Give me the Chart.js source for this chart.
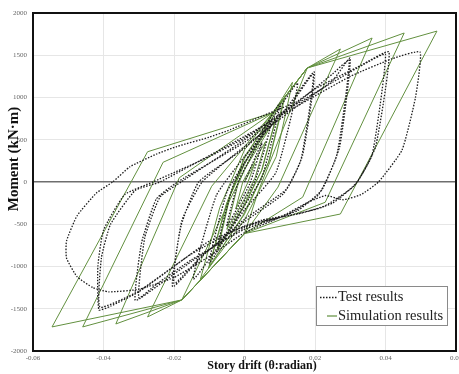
<!DOCTYPE html>
<html>
<head>
<meta charset="utf-8">
<script src="https://cdn.jsdelivr.net/npm/chart.js@4.4.0/dist/chart.umd.min.js"></script>
<style>
html, body { margin: 0; padding: 0; background: #fff; }
#wrap { width: 459px; height: 374px; }
</style>
</head>
<body>
<div id="wrap"><canvas id="chart" width="459" height="374"></canvas></div>
<script>
// axis ticks
const xTickValues = [-0.06, -0.04, -0.02, 0, 0.02, 0.04, 0.06];
const xTickLabels = ["-0.06", "-0.04", "-0.02", "0", "0.02", "0.04", "0.06"];
const yTickValues = [-2000, -1500, -1000, -500, 0, 500, 1000, 1500, 2000];
const yTickLabels = ["-2000", "-1500", "-1000", "-500", "0", "500", "1000", "1500", "2000"];

const seriesNames = ["Test results", "Simulation results"];

// test results: story drift (rad) and moment (kN.m)
const testDrift = [
	0, 0.0050, 0.0015, -0.0050, -0.0015, 0.0075, 0.0030, -0.0075, -0.0030,
	0.0100, 0.0050, 0.0000, -0.0100, -0.0050, 0.0000,
	0.0150, 0.0090, 0.0000, -0.0145, -0.0080, 0.0000,
	0.0120, 0.0198, 0.0165, 0.0120, 0.0000, -0.0120, -0.0204, -0.0180, -0.0130, 0.0000, 0.0120,
	0.0195, 0.0160, 0.0110, 0.0000, -0.0120, -0.0200, -0.0178, -0.0120, 0.0000, 0.0150, 0.0250,
	0.0300, 0.0270, 0.0220, 0.0150, 0.0000, -0.0150, -0.0250, -0.0310, -0.0292, -0.0250, -0.0190, 0.0000, 0.0150, 0.0250,
	0.0297, 0.0262, 0.0210, 0.0120, 0.0000, -0.0150, -0.0250, -0.0300, -0.0283, -0.0240, -0.0180, 0.0000, 0.0200, 0.0330,
	0.0410, 0.0372, 0.0320, 0.0250, 0.0150, 0.0050, -0.0100, -0.0200, -0.0300, -0.0380, -0.0413,
	-0.0416, -0.0400, -0.0340, -0.0260, -0.0100, 0.0000, 0.0100, 0.0250, 0.0350,
	0.0400, 0.0362, 0.0310, 0.0220, 0.0100, 0.0000, -0.0150, -0.0300, -0.0410,
	-0.0406, -0.0380, -0.0310, -0.0240, 0.0000, 0.0150, 0.0300, 0.0420,
	0.0498, 0.0485, 0.0447, 0.0380, 0.0330, 0.0280, 0.0230, 0.0180, 0.0100, 0.0000, -0.0100, -0.0200, -0.0300,
	-0.0385, -0.0430, -0.0475, -0.0505, -0.0505, -0.0475, -0.0420, -0.0374, -0.0325, -0.0250, -0.0192,
	-0.0100, -0.0040, 0.0050, 0.0120
];
const testMoment = [
	0, 470, -20, -520, 30, 700, 20, -760, -20,
	930, 60, -280, -960, -120, 230,
	1170, 120, -330, -1150, -160, 300,
	880, 1301, 320, -80, -440, -880, -1240, -520, 0, 400, 850,
	1275, 260, -140, -470, -870, -1200, -460, 0, 420, 900, 1200,
	1467, 420, -90, -340, -540, -940, -1240, -1400, -720, -200, 0, 470, 940, 1280,
	1440, 320, -150, -390, -560, -920, -1210, -1370, -660, -180, 0, 500, 1100, 1380,
	1538, 420, 0, -250, -380, -450, -700, -1000, -1300, -1470, -1514,
	-1000, -570, -150, 0, 300, 520, 800, 1180, 1420,
	1510, 320, -50, -300, -420, -520, -850, -1290, -1480,
	-900, -500, -100, 0, 540, 900, 1250, 1460,
	1538, 1000, 379, 0, -150, -210, -160, -240, -420, -600, -880, -1130, -1270,
	-1300, -1250, -1120, -900, -700, -400, -130, 0, 180, 330, 420,
	530, 620, 780, 900
];

// simulation results
const simDrift = [
	0, 0.0030, 0.0010, -0.0025, -0.0005,
	0.0060, 0.0030, 0.0000, -0.0050, -0.0020, 0.0000,
	0.0090, 0.0050, 0.0000, -0.0075, -0.0040, 0.0000,
	0.0088, 0.0048, -0.0005, -0.0078, -0.0042, 0.0000,
	0.0115, 0.0070, 0.0000, -0.0100, -0.0050, 0.0000,
	0.0112, 0.0068, -0.0005, -0.0102, -0.0052, 0.0000,
	0.0136, 0.0090, 0.0000, -0.0125, -0.0070, 0.0000,
	0.0178, 0.0040, 0.0000, -0.0178, -0.0040, 0.0080, 0.0178,
	0.0272, 0.0095, 0.0000, -0.0178, -0.0275, -0.0093, 0.0080, 0.0178,
	0.0362, 0.0165, 0.0000, -0.0178, -0.0365, -0.0185, 0.0080, 0.0178,
	0.0453, 0.0229, 0.0000, -0.0178, -0.0459, -0.0231, 0.0080, 0.0178,
	0.0546, 0.0272, 0.0000, -0.0178, -0.0546, -0.0275, 0.0080
];
const simMoment = [
	0, 230, 0, -320, 0,
	480, 50, -200, -560, -50, 150,
	760, 150, -280, -790, -150, 230,
	740, 130, -300, -810, -170, 210,
	1010, 250, -380, -1000, -250, 300,
	990, 230, -400, -1020, -270, 280,
	1180, 300, -450, -1150, -300, 380,
	1349, -100, -610, -1396, -200, 820, 1349,
	1574, -60, -610, -1396, -1597, -50, 820, 1349,
	1704, -180, -610, -1396, -1680, 50, 820, 1349,
	1763, -240, -610, -1396, -1715, 233, 820, 1349,
	1786, -379, -610, -1396, -1715, 358, 820
];

const serif = "'Liberation Serif', 'Times New Roman', serif";
const testColor = "#1c1c1c";
const simColor = "#62903f";

function toPoints(xs, ys)
{
	let pts = [];
	for(let i = 0; i < xs.length; i++)
		pts.push({ x: xs[i], y: ys[i] });
	return pts;
}

const frameAndLegend = {
	id: "frameAndLegend",
	afterDatasetsDraw(chart)
	{
		const ctx = chart.ctx;
		const a = chart.chartArea;
		ctx.save();
		ctx.strokeStyle = "#111";
		ctx.lineWidth = 2;
		ctx.strokeRect(a.left, a.top, a.right - a.left, a.bottom - a.top);

		// legend box
		const bx = a.right - 140, by = a.bottom - 65, bw = 131, bh = 39;
		ctx.fillStyle = "#fff";
		ctx.fillRect(bx, by, bw, bh);
		ctx.strokeStyle = "#8a8a8a";
		ctx.lineWidth = 1;
		ctx.strokeRect(bx + 0.5, by + 0.5, bw, bh);

		ctx.strokeStyle = testColor;
		ctx.lineWidth = 1.3;
		ctx.setLineDash([1.5, 1.5]);
		ctx.beginPath();
		ctx.moveTo(bx + 4, by + 11.5);
		ctx.lineTo(bx + 21, by + 11.5);
		ctx.stroke();
		ctx.setLineDash([]);
		ctx.strokeStyle = simColor;
		ctx.lineWidth = 1.2;
		ctx.beginPath();
		ctx.moveTo(bx + 11, by + 30);
		ctx.lineTo(bx + 21, by + 30);
		ctx.stroke();

		ctx.fillStyle = "#222";
		ctx.font = "14.5px " + serif;
		ctx.textBaseline = "middle";
		ctx.textAlign = "left";
		ctx.fillText(seriesNames[0], bx + 22, by + 11.5);
		ctx.fillText(seriesNames[1], bx + 22, by + 30);

		// axis titles
		ctx.fillStyle = "#111";
		ctx.font = "bold 12px " + serif;
		ctx.textAlign = "center";
		ctx.fillText("Story drift (\u03b8:radian)", 262, 366);
		ctx.translate(14, 159);
		ctx.rotate(-Math.PI / 2);
		ctx.font = "bold 15px " + serif;
		ctx.fillText("Moment (kN\u00b7m)", 0, 0);
		ctx.restore();
	}
};

new Chart(document.getElementById("chart").getContext("2d"),
{
	type: "scatter",
	data:
	{
		datasets:
		[{
			label: seriesNames[0],
			data: toPoints(testDrift, testMoment),
			showLine: true,
			borderColor: testColor,
			borderWidth: 1.3,
			borderDash: [1.5, 1.5],
			pointRadius: 0,
			tension: 0.15
		},
		{
			label: seriesNames[1],
			data: toPoints(simDrift, simMoment),
			showLine: true,
			borderColor: simColor,
			borderWidth: 1,
			pointRadius: 0,
			tension: 0
		}]
	},
	options:
	{
		responsive: false,
		animation: false,
		devicePixelRatio: 1,
		layout: { padding: { left: 0, top: 13, right: 3, bottom: 0 } },
		plugins:
		{
			legend: { display: false },
			tooltip: { enabled: false }
		},
		scales:
		{
			x:
			{
				type: "linear",
				min: -0.06,
				max: 0.06,
				afterBuildTicks: s => { s.ticks = xTickValues.map(v => ({ value: v })); },
				afterFit: s => { s.height = 23; s.paddingLeft = 0; s.paddingRight = 0; },
				grid: { color: "#e6e6e6", drawTicks: false },
				border: { display: false },
				ticks:
				{
					autoSkip: false,
					maxRotation: 0,
					padding: 3,
					color: "#666",
					font: { family: serif, size: 7 },
					callback: (v, i) => xTickLabels[i]
				}
			},
			y:
			{
				type: "linear",
				min: -2000,
				max: 2000,
				afterBuildTicks: s => { s.ticks = yTickValues.map(v => ({ value: v })); },
				afterFit: s => { s.width = 33; s.paddingTop = 0; s.paddingBottom = 0; },
				grid:
				{
					color: c => c.tick && c.tick.value === 0 ? "#6e6e6e" : "#e6e6e6",
					lineWidth: c => c.tick && c.tick.value === 0 ? 1.6 : 1,
					drawTicks: false
				},
				border: { display: false },
				ticks:
				{
					padding: 6,
					color: "#666",
					font: { family: serif, size: 7 },
					callback: (v, i) => yTickLabels[i]
				}
			}
		}
	},
	plugins: [frameAndLegend]
});
</script>
</body>
</html>
